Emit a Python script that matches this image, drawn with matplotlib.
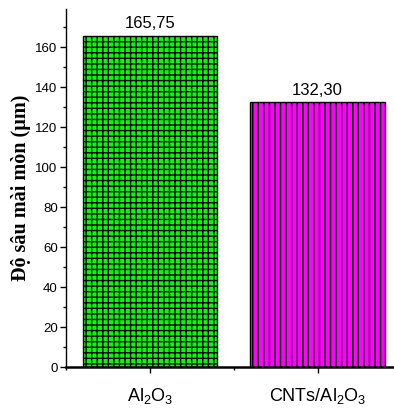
import numpy as np
import matplotlib
matplotlib.use('Agg')
import matplotlib.pyplot as plt
from matplotlib.ticker import MultipleLocator

plt.rcParams['font.family'] = ['Liberation Sans', 'DejaVu Sans']
plt.rcParams['mathtext.fontset'] = 'custom'
plt.rcParams['mathtext.rm'] = 'Liberation Sans'
plt.rcParams['mathtext.it'] = 'Liberation Sans'
plt.rcParams['hatch.linewidth'] = 1.0

# dữ liệu
categories = [r'Al$_2$O$_3$', r'CNTs/Al$_2$O$_3$']
values = [165.75, 132.30]
value_labels = ['165,75', '132,30']
colors = ['#00ff00', '#ff00ff']
hatches = ['+++', '|||']

fig = plt.figure(figsize=(3.94, 4.11), dpi=100)
ax = fig.add_axes([0.1675, 0.107, 0.83, 0.871])

x = np.arange(1, len(values) + 1)
bars = ax.bar(x, values, width=0.8, color=colors, edgecolor='black', linewidth=1.0)
for b, h in zip(bars, hatches):
    b.set_hatch(h)

for xi, v, lab in zip(x, values, value_labels):
    ax.annotate(lab, (xi, v), xytext=(0, 3), textcoords='offset points',
                ha='center', va='bottom', fontsize=12)

ax.set_xlim(0.5, 2.45)
ax.set_ylim(0, 179)
ax.set_xticks(x)
ax.set_xticklabels(categories, fontsize=13)
ax.xaxis.set_minor_locator(MultipleLocator(0.5))
ax.yaxis.set_major_locator(MultipleLocator(20))
ax.yaxis.set_minor_locator(MultipleLocator(10))
ax.tick_params(axis='y', which='major', length=4, width=1, labelsize=9.5, pad=2)
ax.tick_params(axis='y', which='minor', length=2.5, width=1)
ax.tick_params(axis='x', which='major', length=4, width=1, pad=10)
ax.tick_params(axis='x', which='minor', length=2.5, width=1)

ax.spines['top'].set_visible(False)
ax.spines['right'].set_visible(False)
ax.spines['left'].set_linewidth(1.0)
ax.spines['bottom'].set_linewidth(1.8)

ax.set_ylabel('Độ sâu mài mòn (µm)', family=['Liberation Serif', 'DejaVu Serif'],
              fontsize=14.5, fontweight='bold', labelpad=3)

fig.savefig('out.png', dpi=100)
